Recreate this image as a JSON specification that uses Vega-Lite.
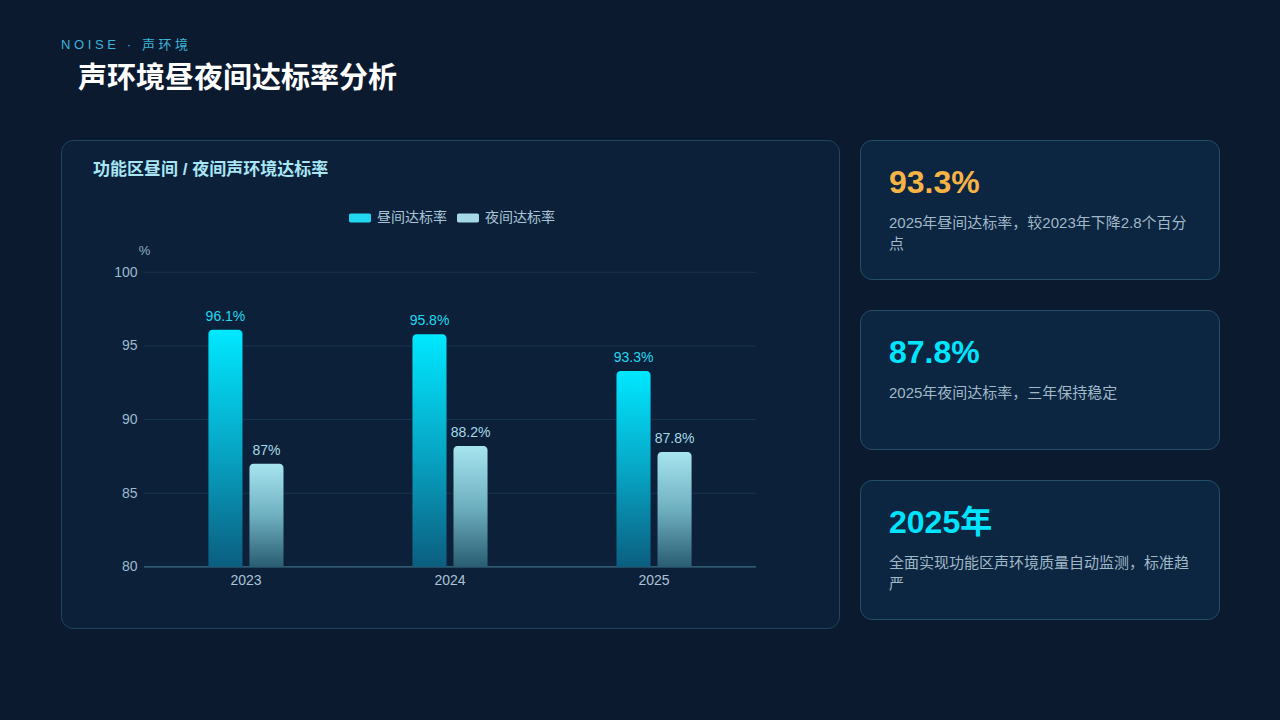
{
  "$schema": "https://vega.github.io/schema/vega-lite/v6.json",
  "background": "#0b1a2f",
  "padding": {"left": 60, "top": 38, "right": 62, "bottom": 97},
  "title": {
    "text": "N\u00a0O\u00a0I\u00a0S\u00a0E\u00a0\u00a0\u00a0·\u00a0\u00a0\u00a0声\u00a0环\u00a0境",
    "subtitle": "\u200b\u2002\u200a声环境昼夜间达标率分析",
    "anchor": "start",
    "frame": "group",
    "orient": "top",
    "fontSize": 13,
    "fontWeight": "normal",
    "color": "#3db4d9",
    "subtitleFontSize": 29,
    "subtitleFontWeight": "bold",
    "subtitleColor": "#ffffff",
    "subtitlePadding": 13,
    "offset": 46
  },
  "spacing": 19,
  "resolve": {"scale": {"color": "independent"}, "legend": {"color": "independent"}},
  "hconcat": [
    {
      "width": 778,
      "height": 488,
      "view": {"fill": "#0c2039", "stroke": "#1f4560", "strokeWidth": 1, "cornerRadius": 12},
      "title": {
        "text": "功能区昼间 / 夜间声环境达标率",
        "anchor": "start",
        "frame": "group",
        "dx": 32,
        "offset": -39,
        "fontSize": 17,
        "fontWeight": "bold",
        "color": "#a8e6f5"
      },
      "data": {
        "values": [
          {"year": "2023", "series": "昼间达标率", "rate": 96.1, "label": "96.1%"},
          {"year": "2023", "series": "夜间达标率", "rate": 87.0, "label": "87%"},
          {"year": "2024", "series": "昼间达标率", "rate": 95.8, "label": "95.8%"},
          {"year": "2024", "series": "夜间达标率", "rate": 88.2, "label": "88.2%"},
          {"year": "2025", "series": "昼间达标率", "rate": 93.3, "label": "93.3%"},
          {"year": "2025", "series": "夜间达标率", "rate": 87.8, "label": "87.8%"}
        ]
      },
      "encoding": {
        "x": {
          "field": "year",
          "type": "ordinal",
          "scale": {"domain": ["2023", "2024", "2025"], "paddingInner": 0.431, "paddingOuter": 0.622},
          "axis": {
            "orient": "bottom",
            "offset": -62,
            "domain": false,
            "ticks": false,
            "tickSize": 0,
            "labelPadding": 7,
            "labelAngle": 0,
            "labelColor": "#a9c4d6",
            "labelFontSize": 14,
            "title": null
          }
        },
        "y": {
          "field": "rate",
          "type": "quantitative",
          "scale": {"domain": [75.85, 108.98], "zero": false, "nice": false},
          "axis": {
            "values": [80, 85, 90, 95, 100],
            "grid": false,
            "domain": false,
            "ticks": false,
            "tickSize": 0,
            "labelPadding": 8,
            "offset": -84,
            "labelColor": "#9bbbd0",
            "labelFontSize": 14,
            "title": "%",
            "titleAngle": 0,
            "titleX": -1,
            "titleY": 110,
            "titleAlign": "center",
            "titleBaseline": "middle",
            "titleColor": "#8fb0c5",
            "titleFontSize": 13,
            "titleFontWeight": "normal"
          }
        }
      },
      "layer": [
        {
          "data": {
            "values": [
              {"year": "2023", "rate": 85}, {"year": "2024", "rate": 85}, {"year": "2025", "rate": 85},
              {"year": "2023", "rate": 90}, {"year": "2024", "rate": 90}, {"year": "2025", "rate": 90},
              {"year": "2023", "rate": 95}, {"year": "2024", "rate": 95}, {"year": "2025", "rate": 95},
              {"year": "2023", "rate": 100}, {"year": "2024", "rate": 100}, {"year": "2025", "rate": 100}
            ]
          },
          "mark": {"type": "tick", "size": 204, "thickness": 1, "color": "#18354f", "opacity": 1}
        },
        {
          "data": {
            "values": [
              {"year": "2023", "rate": 80}, {"year": "2024", "rate": 80}, {"year": "2025", "rate": 80}
            ]
          },
          "mark": {"type": "tick", "size": 204, "thickness": 1.2, "color": "#3a6f86", "opacity": 1}
        },
        {
          "transform": [{"filter": "datum.series === '昼间达标率'"}],
          "mark": {
            "type": "bar",
            "cornerRadiusTopLeft": 4,
            "cornerRadiusTopRight": 4,
            "fill": {"gradient": "linear", "x1": 0, "y1": 0, "x2": 0, "y2": 1, "stops": [{"offset": 0, "color": "#00e8ff"}, {"offset": 0.5, "color": "#07a7c6"}, {"offset": 1, "color": "#0b5e80"}]}
          },
          "encoding": {
            "y2": {"datum": 80},
            "xOffset": {
              "field": "series",
              "scale": {"domain": ["昼间达标率", "夜间达标率"], "paddingInner": 0.17, "paddingOuter": 0.5}
            }
          }
        },
        {
          "transform": [{"filter": "datum.series === '夜间达标率'"}],
          "mark": {
            "type": "bar",
            "cornerRadiusTopLeft": 4,
            "cornerRadiusTopRight": 4,
            "fill": {"gradient": "linear", "x1": 0, "y1": 0, "x2": 0, "y2": 1, "stops": [{"offset": 0, "color": "#a6e4ef"}, {"offset": 0.5, "color": "#6fb0c0"}, {"offset": 1, "color": "#2a5d72"}]}
          },
          "encoding": {
            "y2": {"datum": 80},
            "xOffset": {"field": "series"}
          }
        },
        {
          "mark": {"type": "text", "baseline": "bottom", "dy": -6, "fontSize": 14},
          "encoding": {
            "text": {"field": "label"},
            "xOffset": {"field": "series"},
            "color": {
              "field": "series",
              "type": "nominal",
              "scale": {"domain": ["昼间达标率", "夜间达标率"], "range": ["#22d8f0", "#a6d9e6"]},
              "legend": {
                "orient": "none",
                "legendX": 288,
                "legendY": 67,
                "direction": "horizontal",
                "title": null,
                "symbolType": "M-0.85,-0.4H0.85A0.15,0.15 0 0 1 1,-0.25V0.25A0.15,0.15 0 0 1 0.85,0.4H-0.85A0.15,0.15 0 0 1 -1,0.25V-0.25A0.15,0.15 0 0 1 -0.85,-0.4Z",
                "symbolSize": 484,
                "symbolStrokeWidth": 0,
                "symbolOpacity": 1,
                "labelColor": "#a9c4d6",
                "labelFontSize": 14,
                "labelOffset": 6,
                "columnPadding": 10,
                "padding": 0
              }
            }
          }
        }
      ]
    },
    {
      "data": {
        "values": [
          {"card": 1, "kind": "昼间", "value": "93.3%", "desc": "2025年昼间达标率，较2023年下降2.8个百分\n点"},
          {"card": 2, "kind": "夜间", "value": "87.8%", "desc": "2025年夜间达标率，三年保持稳定"},
          {"card": 3, "kind": "年份", "value": "2025年", "desc": "全面实现功能区声环境质量自动监测，标准趋\n严"}
        ]
      },
      "facet": {"row": {"field": "card", "type": "ordinal", "header": null}},
      "spacing": {"row": 29},
      "spec": {
        "width": 359,
        "height": 139,
        "encoding": {
          "x": {"datum": 0, "type": "quantitative", "scale": {"domain": [0, 1]}, "axis": null},
          "y": {"datum": 1, "type": "quantitative", "scale": {"domain": [0, 1]}, "axis": null}
        },
        "layer": [
          {
            "mark": {"type": "text", "align": "left", "baseline": "middle", "dx": 29, "dy": 43, "fontSize": 32, "fontWeight": "bold"},
            "encoding": {
              "text": {"field": "value"},
              "color": {
                "field": "kind",
                "type": "nominal",
                "scale": {"domain": ["昼间", "夜间", "年份"], "range": ["#f6b447", "#00e5ff", "#00e5ff"]},
                "legend": null
              }
            }
          },
          {
            "mark": {"type": "text", "align": "left", "baseline": "top", "dx": 29, "dy": 76, "fontSize": 15, "lineHeight": 21, "lineBreak": "\n", "color": "#a0b9c9"},
            "encoding": {"text": {"field": "desc"}}
          }
        ]
      }
    }
  ],
  "config": {
    "font": "Liberation Sans, Noto Sans CJK SC, sans-serif",
    "view": {"fill": "#0c2540", "stroke": "#24506a", "strokeWidth": 1, "cornerRadius": 12}
  }
}
